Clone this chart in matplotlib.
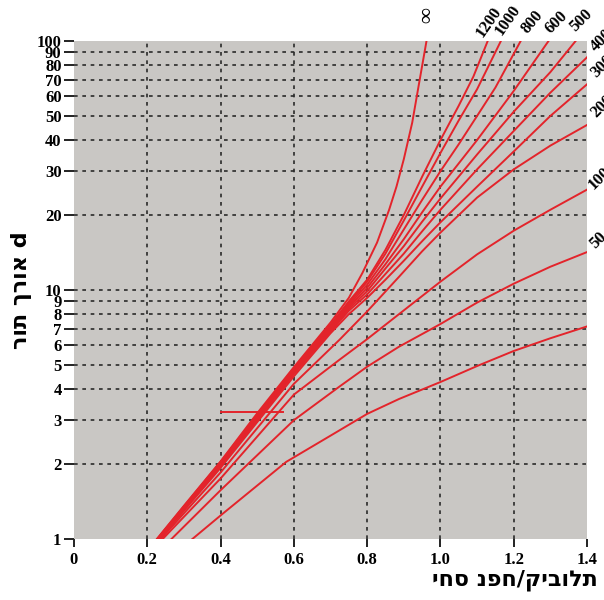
import matplotlib
matplotlib.use("Agg")
import matplotlib.pyplot as plt
from matplotlib.ticker import FixedLocator, NullFormatter, FixedFormatter

# ---------------- data ----------------
inf_x = [0.226, 0.30, 0.40, 0.50, 0.60, 0.70, 0.75, 0.787, 0.827, 0.86, 0.88, 0.90, 0.923, 0.942, 0.962]
inf_y = [1.0, 1.36, 2.05, 3.2, 4.9, 7.4, 9.3, 11.7, 15.5, 21.0, 26.0, 33.5, 47.0, 68.0, 100.0]

c1200_x = [0.227, 0.40, 0.60, 0.70, 0.75, 0.80, 0.85, 0.90, 0.95, 1.00, 1.05, 1.09, 1.129]
c1200_y = [1.0, 2.04, 4.85, 7.25, 9.0, 11.0, 14.5, 20.0, 28.5, 40.0, 55.0, 72.0, 100.0]

c1000_x = [0.228, 0.40, 0.60, 0.70, 0.75, 0.80, 0.85, 0.90, 0.95, 1.00, 1.05, 1.10, 1.165]
c1000_y = [1.0, 2.03, 4.8, 7.15, 8.85, 10.8, 14.0, 19.0, 26.0, 35.5, 48.0, 64.0, 100.0]

c800_x = [0.229, 0.40, 0.60, 0.70, 0.75, 0.80, 0.85, 0.90, 0.95, 1.00, 1.05, 1.10, 1.15, 1.219]
c800_y = [1.0, 2.02, 4.75, 7.05, 8.7, 10.5, 13.3, 17.5, 23.0, 30.0, 38.5, 50.0, 65.0, 100.0]

c600_x = [0.230, 0.40, 0.60, 0.70, 0.75, 0.80, 0.85, 0.90, 0.95, 1.00, 1.10, 1.20, 1.295]
c600_y = [1.0, 2.0, 4.7, 6.95, 8.55, 10.2, 12.7, 16.0, 20.5, 26.0, 40.0, 63.0, 100.0]

c500_x = [0.231, 0.40, 0.60, 0.70, 0.75, 0.80, 0.85, 0.90, 0.95, 1.00, 1.10, 1.20, 1.30, 1.369]
c500_y = [1.0, 1.98, 4.65, 6.9, 8.4, 9.9, 12.2, 15.0, 18.8, 23.3, 35.0, 52.0, 75.0, 100.0]

c400_x = [0.232, 0.40, 0.60, 0.70, 0.75, 0.80, 0.85, 0.90, 0.95, 1.00, 1.10, 1.20, 1.30, 1.40]
c400_y = [1.0, 1.96, 4.6, 6.8, 8.25, 9.6, 11.6, 14.0, 17.2, 21.0, 30.5, 43.5, 62.0, 86.0]

c300_x = [0.234, 0.40, 0.60, 0.70, 0.75, 0.80, 0.85, 0.90, 0.95, 1.00, 1.10, 1.20, 1.30, 1.40]
c300_y = [1.0, 1.93, 4.5, 6.7, 8.0, 9.3, 11.0, 13.1, 15.7, 18.7, 26.0, 36.0, 50.0, 67.0]

c200_x = [0.237, 0.40, 0.60, 0.724, 0.80, 0.887, 0.95, 1.00, 1.10, 1.20, 1.30, 1.40]
c200_y = [1.0, 1.85, 4.2, 6.3, 8.2, 11.3, 14.3, 17.0, 23.5, 30.5, 38.0, 46.0]

c100_x = [0.242, 0.40, 0.60, 0.724, 0.80, 0.887, 1.00, 1.10, 1.20, 1.30, 1.40]
c100_y = [1.0, 1.75, 3.8, 5.24, 6.35, 8.0, 10.8, 13.9, 17.3, 21.0, 25.3]

c50_x = [0.266, 0.40, 0.60, 0.724, 0.80, 0.887, 1.00, 1.10, 1.20, 1.30, 1.40]
c50_y = [1.0, 1.57, 3.0, 4.09, 4.92, 5.92, 7.3, 8.9, 10.6, 12.4, 14.2]

low_x = [0.323, 0.402, 0.579, 0.70, 0.80, 0.887, 1.00, 1.10, 1.20, 1.30, 1.40]
low_y = [1.0, 1.25, 2.04, 2.6, 3.18, 3.65, 4.27, 4.95, 5.69, 6.4, 7.14]

seg_x = [0.40, 0.57]
seg_y = [3.24, 3.24]

series = [[inf_x, inf_y], [c1200_x, c1200_y], [c1000_x, c1000_y], [c800_x, c800_y],
          [c600_x, c600_y], [c500_x, c500_y], [c400_x, c400_y], [c300_x, c300_y],
          [c200_x, c200_y], [c100_x, c100_y], [c50_x, c50_y], [low_x, low_y]]

curve_labels = ["∞", "1200", "1000", "800", "600", "500", "400", "300", "200", "100", "50"]

x_ticks = [0, 0.2, 0.4, 0.6, 0.8, 1.0, 1.2, 1.4]
x_tick_labels = ["0", "0.2", "0.4", "0.6", "0.8", "1.0", "1.2", "1.4"]
y_ticks = [1, 2, 3, 4, 5, 6, 7, 8, 9, 10, 20, 30, 40, 50, 60, 70, 80, 90, 100]
y_tick_labels = [str(v) for v in y_ticks]

x_label = "יחס נפח/קיבולת"
y_label = "רות ךרוא d"

# ---------------- drawing ----------------
W, H = 604, 600
fig = plt.figure(figsize=(W / 100, H / 100), dpi=100)
fig.patch.set_facecolor("white")
ax = fig.add_axes([74 / W, 1 - 539 / H, (587 - 74) / W, (539 - 41) / H])
ax.set_facecolor("#c9c7c4")
ax.set_yscale("log")
ax.set_xlim(0, 1.4)
ax.set_ylim(1, 100)

red = "#e3242b"
for xs, ys in series:
    ax.plot(xs, ys, color=red, lw=1.4, solid_joinstyle="round", zorder=3)
ax.plot(seg_x, seg_y, color=red, lw=1.4, zorder=3)

# grid
for gx in x_ticks[1:-1]:
    ax.axvline(gx, color="#2a2a2a", lw=1.2, ls=(0, (2.2, 2.8)), zorder=2)
for gy in y_ticks[1:-1]:
    ax.axhline(gy, color="#2a2a2a", lw=1.2, ls=(0, (2.2, 2.8)), zorder=2)

for s in ax.spines.values():
    s.set_visible(False)

ax.xaxis.set_major_locator(FixedLocator(x_ticks))
ax.xaxis.set_major_formatter(FixedFormatter(x_tick_labels))
ax.xaxis.set_minor_locator(FixedLocator([]))
ax.yaxis.set_major_locator(FixedLocator(y_ticks))
ax.yaxis.set_major_formatter(FixedFormatter(y_tick_labels))
ax.yaxis.set_minor_locator(FixedLocator([]))
ax.yaxis.set_minor_formatter(NullFormatter())

ax.tick_params(axis="x", direction="out", length=6, width=1.4, color="#222", pad=3)
ax.tick_params(axis="y", direction="out", length=7, width=1.4, color="#222", pad=2)
for lab in ax.get_xticklabels() + ax.get_yticklabels():
    lab.set_fontfamily("Liberation Serif")
    lab.set_fontweight("bold")
    lab.set_fontsize(12)

# axis titles
fig.text(598 / W, 1 - 580 / H, x_label, ha="right", va="center",
         family="DejaVu Sans", weight="bold", size=16)
fig.text(22 / W, 1 - 290 / H, y_label, ha="center", va="center", rotation=90,
         family="DejaVu Sans", weight="bold", size=16)

# curve labels (pixel positions of the reference)
lab_pos = [(427, 15, 90, 16), (489, 22, 55, 12), (508, 20, 55, 12), (532, 22, 50, 12),
           (556, 22, 45, 12), (581, 20, 45, 12), (602, 40, 45, 12), (602, 66, 45, 12),
           (602, 106, 45, 12), (600, 178, 45, 12), (598, 240, 45, 12)]
for txt, (px, py, rot, fs) in zip(curve_labels, lab_pos):
    fig.text(px / W, 1 - py / H, txt, ha="center", va="center", rotation=rot,
             family=["Liberation Serif", "DejaVu Sans"], weight="bold", size=fs)

fig.savefig("out.png", dpi=100)
